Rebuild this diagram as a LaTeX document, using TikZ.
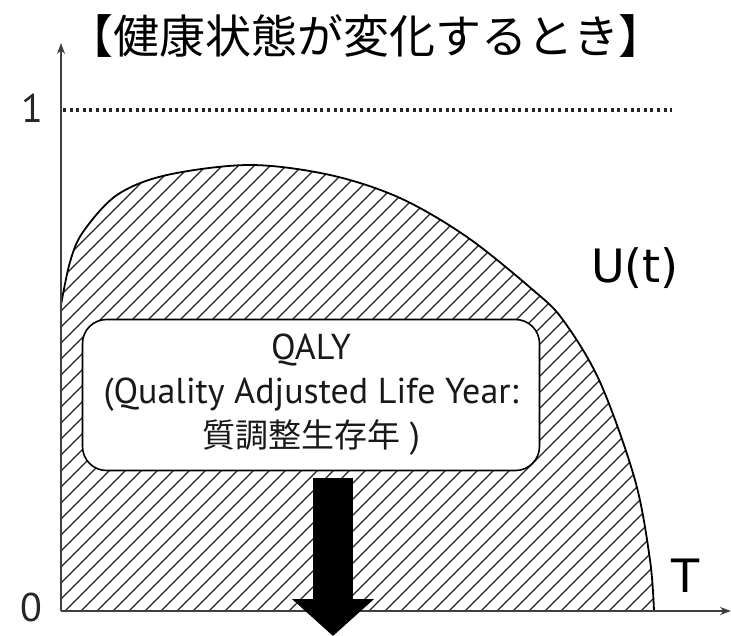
\documentclass[tikz,border=0pt]{standalone}
\usepackage{fontspec}
\setmainfont{PT Sans}
\newfontfamily\jp{Noto Sans CJK JP}
\newfontfamily\dv{DejaVu Sans}
\usetikzlibrary{arrows.meta}
\tikzset{
  axisline/.style={line width=1.8pt, draw=black!75, -{Stealth[length=11pt,width=8pt]}},
  oneline/.style={line width=3.4pt, dash pattern=on 3pt off 3.6pt, draw=black!85},
  hatchline/.style={line width=1.1pt, draw=black!85},
  curveline/.style={line width=1.8pt, draw=black},
  qbox/.style={draw=black, line width=1.6pt, fill=white, rounded corners=24pt,
    minimum width=457pt, minimum height=151pt, inner sep=0pt, align=center, text=black!90},
  bigarrow/.style={line width=40pt, draw=black, -{Triangle[length=37pt,width=80pt]}},
  axlabel/.style={font=\fontsize{40}{40}\selectfont, inner sep=0pt, text=black!85},
  biglabel/.style={font=\dv\fontsize{46}{46}\selectfont, inner sep=0pt},
}
\begin{document}
\begin{tikzpicture}[x=1pt,y=-1pt]
\useasboundingbox (0,0) rectangle (731,636);
\def\ucurve{(61,305) (70,262) (83,232) (117,195) (167,175) (250,165) (330,175) (400,198) (467,237) (533,290) (563,320) (600,382) (635,480) (650,560) (654,611)}
% hatched area
\begin{scope}
  \clip (61,611) -- plot[smooth, tension=0.55] coordinates {\ucurve} -- cycle;
  \foreach \k in {-400,-384,...,660} \draw[hatchline] (\k,612) -- ++(460,-460);
\end{scope}
\draw[curveline] plot[smooth, tension=0.55] coordinates {\ucurve};
% axes
\coordinate (O) at (61,611);
\coordinate (ytip) at (61,43);
\coordinate (xtip) at (731,611);
\coordinate (oneL) at (63,110);
\coordinate (oneR) at (672,110);
\draw[axisline] (O) -- (ytip);
\draw[axisline] (O) -- (xtip);
\draw[oneline] (oneL) -- (oneR);
\node[axlabel] (one) at (32,108) {1};
\node[axlabel] (zero) at (31,607) {0};
\node[biglabel] (U) at (635,268) {U(t)};
\node[biglabel] (T) at (686,576) {T};
% title
\node[inner sep=0pt, font=\jp\fontsize{46}{46}\selectfont] (title) at (366,36) {【健康状態が変化するとき】};
% QALY box
\node[qbox, font=\fontsize{36}{44}\selectfont] (q) at (311,395)
  {QALY\\(Quality Adjusted Life Year:\\{\jp\fontsize{33}{44}\selectfont 質調整生存年} )};
\coordinate (arrowend) at (333,636);
\draw[bigarrow, shorten <=7pt] (q.south -| arrowend) -- (arrowend);
\end{tikzpicture}
\end{document}
